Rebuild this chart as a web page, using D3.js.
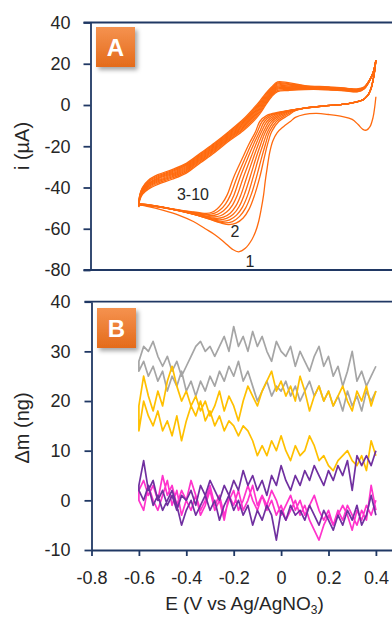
<!DOCTYPE html>
<html><head><meta charset="utf-8">
<script src="https://cdn.jsdelivr.net/npm/d3@7"></script>
<style>body{margin:0;background:#fff}svg{display:block}</style>
</head><body><svg id="c" width="392" height="617"></svg>
<script>
// ---------- DATA ----------
const xTicks = [-0.8,-0.6,-0.4,-0.2,0,0.2,0.4];
const xTickLabels = ["-0.8","-0.6","-0.4","-0.2","0","0.2","0.4"];
const yTicksA = [-80,-60,-40,-20,0,20,40];
const yTicksB = [-10,0,10,20,30,40];

// Panel A: cyclic voltammograms (E in V, i in µA)
const cvUpperE = [-0.6,-0.597,-0.585,-0.56,-0.52,-0.46,-0.40,-0.34,-0.28,-0.22,-0.16,-0.12,-0.09,-0.065,-0.04,-0.015,0.03,0.1,0.2,0.28,0.32,0.35,0.375,0.39,0.4];
const cvUpper = [
 [-49.3,-46.3,-43.3,-40.8,-38.5,-36,-33,-28,-23,-17.5,-12.5,-8.3,-4.3,0,4,6.5,7,7.5,7.4,6.7,6.4,7.8,12.1,16.2,21.8],
 [-49.1,-46,-42.8,-40.2,-37.9,-35.4,-32.4,-27.4,-22.4,-16.9,-11.8,-7.5,-3.5,0.7,4.6,7.1,7.5,7.7,7.5,6.8,6.5,7.9,12.1,16.2,21.8],
 [-48.9,-45.7,-42.4,-39.7,-37.3,-34.8,-31.8,-26.8,-21.8,-16.3,-11.1,-6.7,-2.7,1.4,5.2,7.7,8,8,7.7,7,6.7,8,12.2,16.2,21.8],
 [-48.7,-45.4,-42.1,-39.2,-36.8,-34.3,-31.3,-26.3,-21.3,-15.8,-10.5,-6,-2,2,5.7,8.2,8.4,8.2,7.9,7.2,6.9,8.1,12.2,16.3,21.8],
 [-48.6,-45.2,-41.7,-38.8,-36.3,-33.8,-30.8,-25.8,-20.8,-15.3,-9.9,-5.4,-1.4,2.6,6.2,8.7,8.8,8.4,8,7.3,7,8.2,12.3,16.3,21.8],
 [-48.4,-44.9,-41.4,-38.3,-35.8,-33.3,-30.3,-25.3,-20.3,-14.8,-9.3,-4.7,-0.7,3.2,6.7,9.2,9.2,8.6,8.2,7.5,7.2,8.3,12.3,16.3,21.8],
 [-48.3,-44.7,-41,-37.9,-35.3,-32.8,-29.8,-24.8,-19.8,-14.3,-8.7,-4.1,-0.1,3.8,7.2,9.7,9.6,8.8,8.3,7.6,7.3,8.4,12.4,16.3,21.8],
 [-48.1,-44.4,-40.7,-37.4,-34.8,-32.3,-29.3,-24.3,-19.3,-13.8,-8.1,-3.4,0.6,4.4,7.7,10.2,10,9,8.5,7.8,7.5,8.5,12.4,16.4,21.8],
 [-48,-44.2,-40.3,-37,-34.3,-31.8,-28.8,-23.8,-18.8,-13.3,-7.5,-2.8,1.2,5,8.2,10.7,10.4,9.2,8.6,7.9,7.6,8.6,12.5,16.4,21.8],
 [-47.8,-43.9,-40,-36.5,-33.8,-31.3,-28.3,-23.3,-18.3,-12.8,-6.9,-2.1,1.9,5.6,8.7,11.2,10.8,9.4,8.8,8.1,7.8,8.7,12.5,16.4,21.8]
];
const cvLowerStart = [[0.4,21.8],[0.394,16],[0.387,11.5],[0.378,7.5],[0.365,4.5],[0.345,2.5],[0.31,1.3],[0.25,0.2],[0.18,-0.5],[0.1,-1.5]];
const cvLower = [
 [[0.4,4],[0.395,-1],[0.388,-6],[0.375,-10.5],[0.36,-12.2],[0.345,-11.8],[0.325,-9.5],[0.3,-7],[0.26,-5.6],[0.2,-4.6],[0.15,-4.1],[0.1,-4.5],[0.06,-6],[0.039,-8],[0.01,-10.5],[-0.017,-13.5],[-0.035,-17.5],[-0.048,-23],[-0.059,-30.7],[-0.067,-37],[-0.074,-43.7],[-0.084,-50.5],[-0.095,-56.6],[-0.108,-61.5],[-0.123,-65.2],[-0.151,-69.5],[-0.179,-71.2],[-0.205,-70],[-0.24,-66.5],[-0.278,-63],[-0.32,-60],[-0.37,-56.5],[-0.43,-53.5],[-0.5,-51],[-0.56,-49.3],[-0.6,-48.5]],
 cvLowerStart.concat([[0.06,-2.8],[0.03,-5],[-0.01,-8],[-0.04,-13],[-0.057,-19],[-0.07,-25],[-0.09,-35],[-0.112,-43.7],[-0.135,-50.5],[-0.16,-54.8],[-0.19,-57.3],[-0.22,-58],[-0.255,-57.2],[-0.3,-55.5],[-0.36,-53.3],[-0.43,-51.3],[-0.5,-49.8],[-0.56,-48.9],[-0.6,-48.6]]),
 cvLowerStart.concat([[0.06,-2.6],[0.019,-5],[-0.02,-8],[-0.049,-13],[-0.066,-19],[-0.081,-25],[-0.104,-35],[-0.127,-43.7],[-0.15,-50],[-0.175,-54],[-0.205,-56.5],[-0.235,-57.2],[-0.27,-56.5],[-0.31,-55],[-0.36,-53.3],[-0.43,-51.2],[-0.5,-49.7],[-0.56,-48.8],[-0.6,-48.5]]),
 cvLowerStart.concat([[0.05,-2.7],[0.008,-5],[-0.03,-8],[-0.057,-13],[-0.076,-19],[-0.093,-25],[-0.118,-35],[-0.141,-43.7],[-0.163,-49.5],[-0.188,-53.4],[-0.217,-55.7],[-0.247,-56.4],[-0.28,-55.8],[-0.32,-54.5],[-0.37,-52.9],[-0.43,-51.1],[-0.5,-49.6],[-0.56,-48.7],[-0.6,-48.4]]),
 cvLowerStart.concat([[0.04,-2.8],[-0.004,-5],[-0.04,-8],[-0.066,-13],[-0.086,-19],[-0.104,-25],[-0.131,-35],[-0.156,-43.7],[-0.177,-49.2],[-0.202,-53],[-0.23,-55],[-0.259,-55.7],[-0.29,-55.2],[-0.33,-54],[-0.38,-52.6],[-0.44,-51],[-0.5,-49.6],[-0.56,-48.7],[-0.6,-48.3]]),
 cvLowerStart.concat([[0.03,-3],[-0.015,-5],[-0.05,-8],[-0.074,-13],[-0.096,-19],[-0.115,-25],[-0.145,-35],[-0.17,-43.7],[-0.19,-48.8],[-0.215,-52.5],[-0.243,-54.4],[-0.271,-55],[-0.3,-54.6],[-0.34,-53.6],[-0.39,-52.3],[-0.44,-51],[-0.5,-49.5],[-0.56,-48.6],[-0.6,-48.2]]),
 cvLowerStart.concat([[0.02,-3.2],[-0.026,-5],[-0.06,-8],[-0.083,-13],[-0.106,-19],[-0.126,-25],[-0.159,-35],[-0.185,-43.7],[-0.205,-48.5],[-0.23,-51.9],[-0.256,-53.7],[-0.283,-54.3],[-0.31,-54],[-0.35,-53.1],[-0.4,-52],[-0.45,-50.8],[-0.51,-49.4],[-0.56,-48.5],[-0.6,-48.1]]),
 cvLowerStart.concat([[0.01,-3.3],[-0.038,-5],[-0.07,-8],[-0.091,-13],[-0.116,-19],[-0.138,-25],[-0.173,-35],[-0.199,-43.7],[-0.219,-48.2],[-0.243,-51.3],[-0.268,-53],[-0.295,-53.6],[-0.32,-53.3],[-0.36,-52.6],[-0.41,-51.6],[-0.46,-50.5],[-0.51,-49.3],[-0.56,-48.4],[-0.6,-48]]),
 cvLowerStart.concat([[0,-3.4],[-0.049,-5],[-0.08,-8],[-0.1,-13],[-0.126,-19],[-0.149,-25],[-0.186,-35],[-0.214,-43.7],[-0.234,-47.9],[-0.257,-50.8],[-0.28,-52.4],[-0.305,-53],[-0.33,-52.8],[-0.37,-52.1],[-0.42,-51.2],[-0.47,-50.2],[-0.52,-49.1],[-0.56,-48.3],[-0.6,-47.9]]),
 cvLowerStart.concat([[-0.01,-3.5],[-0.06,-5],[-0.09,-8],[-0.108,-13],[-0.136,-19],[-0.16,-25],[-0.2,-35],[-0.228,-43.7],[-0.248,-47.6],[-0.27,-50.4],[-0.292,-52],[-0.315,-52.5],[-0.34,-52.3],[-0.38,-51.7],[-0.43,-50.9],[-0.48,-50],[-0.53,-49],[-0.57,-48.2],[-0.6,-47.8]])
];
const cvLabels = [{t:"3-10",e:-0.372,i:-46},{t:"2",e:-0.195,i:-64},{t:"1",e:-0.131,i:-78.5}];

// Panel B: mass change (ng) vs E, two sweeps per series
const eB = [-0.6,-0.58,-0.56,-0.54,-0.52,-0.5,-0.48,-0.46,-0.44,-0.42,-0.4,-0.38,-0.36,-0.34,-0.32,-0.3,-0.28,-0.26,-0.24,-0.22,-0.2,-0.18,-0.16,-0.14,-0.12,-0.1,-0.08,-0.06,-0.04,-0.02,0,0.02,0.04,0.06,0.08,0.1,0.12,0.14,0.16,0.18,0.2,0.22,0.24,0.26,0.28,0.3,0.32,0.34,0.36,0.38,0.4];
const grayA = [28,31,30,32,29,27,29,26,28,25,27,29,31,32,30,31,29,31,33,30,35,31,33,30,34,31,33,30,28,32,30,29,31,27,30,28,26,29,31,27,29,25,27,23,26,30,24,26,23,25,27];
const grayB = [26,28,25,27,24,26,22,25,23,26,22,24,21,24,22,25,23,26,24,27,25,28,24,26,23,20,22,24,21,23,22,24,21,23,20,22,24,21,23,20,22,19,21,18,22,19,21,18,22,20,22];
const goldA = [19,25,21,18,22,19,24,27,23,20,22,19,21,18,20,17,19,22,18,21,19,16,20,23,21,19,22,24,26,22,24,21,23,20,25,22,18,21,23,20,22,19,21,23,20,18,22,20,23,19,22];
const goldB = [14,20,17,15,18,14,16,13,17,12,16,19,17,20,16,18,15,17,14,16,15,13,15,14,12,9,11,9,12,10,13,10,8,11,9,10,13,11,8,9,7,6,8,9,10,8,7,9,6,12,9];
const pinkA = [0,-2,3,0,-2,1,4,-1,2,-3,0,-2,1,-3,-1,2,-2,0,-4,1,-1,2,-2,0,3,-1,1,-2,0,-3,-1,-4,-2,0,-3,-1,-4,-6,-8,-5,-3,-5,-2,-4,-1,-3,-5,-2,-4,3,-2];
const pinkB = [2,4,1,3,0,5,1,3,-1,2,0,4,1,-2,0,3,-1,1,-3,0,2,-2,0,3,0,-2,1,-1,2,0,-3,-1,1,-2,0,-3,-1,1,-2,-4,-2,-5,-3,-1,-3,-6,-2,-4,-1,-3,0];
const purpA = [3,8,2,4,0,2,-1,1,-2,1,0,2,-1,3,1,4,2,0,3,1,4,2,6,3,5,2,4,1,5,3,7,4,2,5,3,6,4,7,5,3,6,4,7,5,8,2,9,7,9,7,10];
const purpB = [2,0,3,-1,1,-2,0,2,-1,-5,-2,0,-3,-1,1,-2,0,-4,-1,1,-2,0,-3,-1,-5,-2,-4,-1,-3,-8,-2,-4,-1,-3,-2,-4,-1,-3,-5,-2,-4,-6,-3,-5,-2,-4,-1,-5,-3,1,-3];
const seriesB = [
  {a:grayA, b:grayB, color:"#A5A5A5"},
  {a:goldA, b:goldB, color:"#FFC000"},
  {a:pinkA, b:pinkB, color:"#FF33CC"},
  {a:purpA, b:purpB, color:"#7030A0"}
];

// ---------- DRAW ----------
const FONT = "'Liberation Sans', Arial, sans-serif";
const AX = "#203864";
const TXT = "#262626";
const svg = d3.select("#c");
svg.append("rect").attr("width",392).attr("height",617).attr("fill","#fff");

const defs = svg.append("defs");
const grad = defs.append("linearGradient").attr("id","og").attr("x1",0).attr("y1",0).attr("x2",0).attr("y2",1);
grad.append("stop").attr("offset","0%").attr("stop-color","#F5924F");
grad.append("stop").attr("offset","100%").attr("stop-color","#E46B1B");
const filt = defs.append("filter").attr("id","sh").attr("x","-30%").attr("y","-30%").attr("width","170%").attr("height","170%");
filt.append("feDropShadow").attr("dx",2.5).attr("dy",3).attr("stdDeviation",2).attr("flood-color","#000").attr("flood-opacity",0.35);

const x = d3.scaleLinear().domain([-0.8,0.6]).range([91.5,423.3]);
const yA = d3.scaleLinear().domain([-80,40]).range([270,22.5]);
const yB = d3.scaleLinear().domain([-10,40]).range([550,301.7]);

function styleAxis(g){
  g.select(".domain").attr("stroke",AX).attr("stroke-width",1.8);
  g.selectAll(".tick line").attr("stroke",AX).attr("stroke-width",1.8);
  g.selectAll(".tick text").attr("fill",TXT).attr("font-size",18).attr("font-family",FONT);
}

// Panel A frame
svg.append("line").attr("x1",83.5).attr("x2",392).attr("y1",yA(40)).attr("y2",yA(40)).attr("stroke",AX).attr("stroke-width",1.8);
svg.append("line").attr("x1",83.5).attr("x2",392).attr("y1",yA(-80)).attr("y2",yA(-80)).attr("stroke",AX).attr("stroke-width",1.8);
const gA = svg.append("g").attr("transform","translate(90.5,0)")
  .call(d3.axisLeft(yA).tickValues(yTicksA).tickFormat(d=>String(d)).tickSize(7).tickSizeOuter(0).tickPadding(13));
styleAxis(gA);

// CV curves
const lineA = d3.line().x(d=>x(d[0])).y(d=>yA(d[1])).curve(d3.curveCatmullRom.alpha(0.5));
const gCV = svg.append("g");
cvLower.forEach((low,k)=>{
  const pts = low.concat(cvUpperE.map((e,j)=>[e,cvUpper[k][j]]));
  gCV.append("path").attr("d",lineA(pts)).attr("fill","none").attr("stroke","#FF6A0E").attr("stroke-width",1.3).attr("stroke-linejoin","round");
});
cvLabels.forEach(l=>{
  svg.append("text").attr("x",x(l.e)).attr("y",yA(l.i)).attr("text-anchor","middle")
    .attr("font-family",FONT).attr("font-size",16).attr("fill",TXT).text(l.t);
});

// Panel B frame
svg.append("line").attr("x1",84.5).attr("x2",392).attr("y1",yB(40)).attr("y2",yB(40)).attr("stroke",AX).attr("stroke-width",1.8);
const gB = svg.append("g").attr("transform","translate(91.5,0)")
  .call(d3.axisLeft(yB).tickValues(yTicksB).tickFormat(d=>String(d)).tickSize(7).tickSizeOuter(0).tickPadding(14));
styleAxis(gB);
const gX = svg.append("g").attr("transform","translate(0,"+yB(-10)+")")
  .call(d3.axisBottom(x).tickValues(xTicks).tickFormat((d,i)=>xTickLabels[i]).tickSize(6).tickSizeOuter(0).tickPadding(15));
styleAxis(gX);

const lineB = d3.line().x(d=>x(d[0])).y(d=>yB(d[1])).curve(d3.curveLinear);
seriesB.forEach(s=>{
  const pts = s.a.map((v,j)=>[eB[j],v]).reverse().concat(s.b.map((v,j)=>[eB[j],v]));
  svg.append("path").attr("d",lineB(pts)).attr("fill","none").attr("stroke",s.color).attr("stroke-width",1.7).attr("stroke-linejoin","round");
});

// Panel label boxes
function badge(x0,y0,txt){
  const g = svg.append("g");
  g.append("rect").attr("x",x0).attr("y",y0).attr("width",39).attr("height",40).attr("fill","url(#og)").attr("filter","url(#sh)");
  g.append("text").attr("x",x0+19.5).attr("y",y0+28.5).attr("text-anchor","middle").attr("font-family",FONT)
    .attr("font-weight","bold").attr("font-size",24).attr("fill","#fff").text(txt);
}
badge(96,27,"A");
badge(97,308,"B");

// Axis titles
svg.append("text").attr("transform","translate(29,146) rotate(-90)").attr("text-anchor","middle")
  .attr("font-family",FONT).attr("font-size",20).attr("fill",TXT).text("i (µA)");
svg.append("text").attr("transform","translate(29,428) rotate(-90)").attr("text-anchor","middle")
  .attr("font-family",FONT).attr("font-size",20).attr("fill",TXT).text("Δm (ng)");
const xt = svg.append("text").attr("x",244.5).attr("y",610).attr("text-anchor","middle")
  .attr("font-family",FONT).attr("font-size",19).attr("fill",TXT);
xt.append("tspan").text("E (V vs Ag/AgNO");
xt.append("tspan").attr("font-size",12).attr("dy",4).text("3");
xt.append("tspan").attr("dy",-4).text(")");
</script></body></html>
